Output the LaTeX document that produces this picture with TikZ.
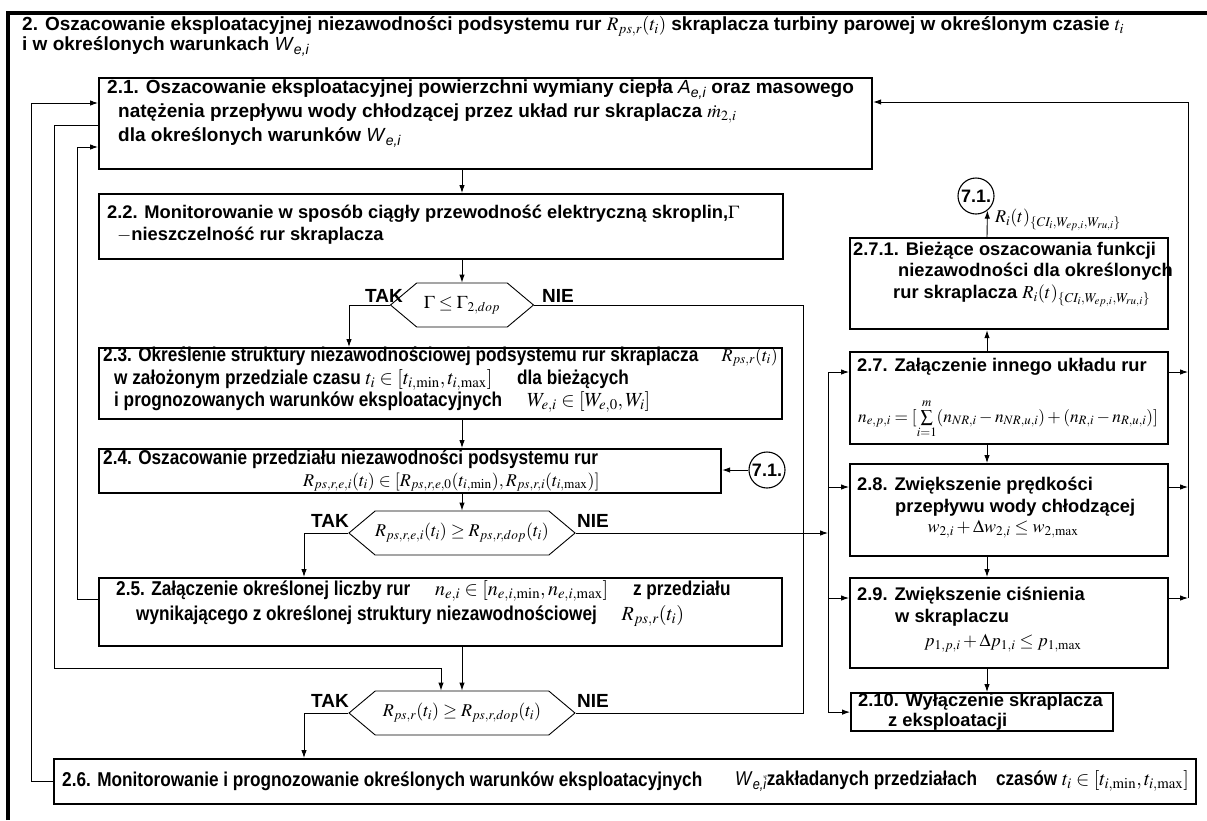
\documentclass[tikz,border=0pt]{standalone}
\usepackage{mathptmx}
\usepackage[no-math]{fontspec}
\setmainfont{Liberation Sans}
\newfontfamily\narrowsans{Liberation Sans}[FakeStretch=0.86]
\usetikzlibrary{arrows.meta,shapes.symbols,calc}
\newcommand{\Wei}{\textit{\mdseries W}\textsubscript{\mdseries\itshape e,i}}
\newcommand{\Aei}{\textit{\mdseries A}\textsubscript{\mdseries\itshape e,i}}
\tikzset{
  box/.style={draw,line width=2.2pt,rectangle,anchor=north west,inner sep=0pt},
  txt/.style={anchor=north west,align=left,inner sep=0pt,font=\bfseries\fontsize{19}{24}\selectfont},
  ntxt/.style={txt,font=\narrowsans\bfseries\fontsize{20}{22.5}\selectfont},
  rtxt/.style={txt,font=\bfseries\fontsize{18.3}{21.5}\selectfont},
  formula/.style={inner sep=0pt,font=\fontsize{18}{20}\selectfont},
  hex/.style={draw,line width=0.9pt,signal,signal to=east and west,signal pointer angle=80,inner sep=0pt,minimum height=44pt,font=\fontsize{18}{20}\selectfont},
  flow/.style={-{Latex[length=8pt,width=5.5pt]},line width=0.9pt},
  link/.style={line width=0.9pt},
  conn/.style={draw,circle,line width=1.1pt,minimum size=36pt,inner sep=0pt,font=\bfseries\fontsize{18}{20}\selectfont},
  yesno/.style={font=\bfseries\fontsize{19}{20}\selectfont,inner sep=0pt}
}
\begin{document}
\begin{tikzpicture}[x=1pt,y=-1pt]
  \useasboundingbox (0,0) rectangle (1207,820);
  \draw[line width=3.5pt] (8,820) -- (8,13) -- (1207,13);
  \node[txt,font=\bfseries\fontsize{19}{20}\selectfont] (ttl) at (22,16) {2. Oszacowanie eksploatacyjnej niezawodności podsystemu rur $R_{ps,r}(t_i)$ skraplacza turbiny parowej w określonym czasie $t_i$\\i w określonych warunkach \Wei};

  % left column
  \node[box,minimum width=773pt,minimum height=91pt] (b21) at (98,77) {};
  \node[txt] (t21) at (107,80) {2.1. Oszacowanie eksploatacyjnej powierzchni wymiany ciepła \Aei{} oraz masowego\\
    \hspace*{11pt}natężenia przepływu wody chłodzącej przez układ rur skraplacza $\dot m_{2,i}$\\
    \hspace*{11pt}dla określonych warunków \Wei};
  \node[box,minimum width=684pt,minimum height=65pt] (b22) at (98,193) {};
  \node[txt,font=\bfseries\fontsize{18.3}{22}\selectfont] (t22) at (107,205) {2.2. Monitorowanie w sposób ciągły przewodność elektryczną skroplin,$\Gamma$\\
    \hspace*{10pt}$-$nieszczelność rur skraplacza};
  \node[hex,minimum width=143pt] (h1) at (462,305) {$\Gamma\le\Gamma_{2,dop}$};
  \node[box,minimum width=683pt,minimum height=71pt] (b23) at (98,347) {};
  \node[ntxt] (t23) at (103,347) {2.3. Określenie struktury niezawodnościowej podsystemu rur skraplacza\\
    \hspace*{11pt}w założonym przedziale czasu $t_i\in[t_{i,\min},t_{i,\max}]$ \quad dla bieżących\\
    \hspace*{11pt}i prognozowanych warunków eksploatacyjnych \quad $W_{e,i}\in[W_{e,0},W_i]$};
  \node[formula,anchor=east] (r23) at (778,357) {$R_{ps,r}(t_i)$};
  \node[box,minimum width=622pt,minimum height=44pt] (b24) at (98,448) {};
  \node[ntxt] (t24) at (103,450) {2.4. Oszacowanie przedziału niezawodności podsystemu rur};
  \node[formula,anchor=west] (f24) at (303,482) {$R_{ps,r,e,i}(t_i)\in[R_{ps,r,e,0}(t_{i,\min}),R_{ps,r,i}(t_{i,\max})]$};
  \node[conn] (c2) at (767,470) {7.1.};
  \node[hex,minimum width=226pt] (h2) at (462,533) {$R_{ps,r,e,i}(t_i)\ge R_{ps,r,dop}(t_i)$};
  \node[box,minimum width=683pt,minimum height=68pt] (b25) at (98,577) {};
  \node[ntxt,font=\narrowsans\bfseries\fontsize{20}{25}\selectfont] (t25) at (116,580) {2.5. Załączenie określonej liczby rur \quad $n_{e,i}\in[n_{e,i,\min},n_{e,i,\max}]$ \quad z przedziału\\
    \hspace*{20pt}wynikającego z określonej struktury niezawodnościowej \quad $R_{ps,r}(t_i)$};
  \node[hex,minimum width=226pt] (h3) at (462,713) {$R_{ps,r}(t_i)\ge R_{ps,r,dop}(t_i)$};
  \node[box,minimum width=1142pt,minimum height=45pt] (b26) at (53,758) {};
  \node[ntxt,anchor=west] (t26) at (62,781) {2.6. Monitorowanie i prognozowanie określonych warunków eksploatacyjnych};
  \node[ntxt,anchor=west] (t26b) at (735,781) {\Wei\hspace{-3pt}\raisebox{7pt}{\mdseries\itshape\tiny w}zakładanych przedziałach};
  \node[ntxt,anchor=east] (t26c) at (1189,781) {czasów $t_i\in[t_{i,\min},t_{i,\max}]$};

  \node[yesno,anchor=south] (tk1) at (384,303) {TAK};
  \node[yesno,anchor=south] (ne1) at (558,303) {NIE};
  \node[yesno,anchor=south] (tk2) at (330,528) {TAK};
  \node[yesno,anchor=south] (ne2) at (593,528) {NIE};
  \node[yesno,anchor=south] (tk3) at (330,708) {TAK};
  \node[yesno,anchor=south] (ne3) at (593,708) {NIE};

  % right column
  \node[conn] (c1) at (976,196) {7.1.};
  \node[formula,anchor=west] (lbl) at (995,220) {$R_i(t)_{\{CI_i,W_{ep,i},W_{ru,i}\}}$};
  \node[box,minimum width=318pt,minimum height=91pt] (b271) at (849,237) {};
  \node[rtxt] (t271) at (853,242) {2.7.1. Bieżące oszacowania funkcji\\
    \hspace*{45pt}niezawodności dla określonych\\
    \hspace*{40pt}rur skraplacza $R_i(t)_{\{CI_i,W_{ep,i},W_{ru,i}\}}$};
  \node[box,minimum width=318pt,minimum height=92pt] (b27) at (849,351) {};
  \node[rtxt] (t27) at (857,358) {2.7. Załączenie innego układu rur};
  \node[formula,font=\fontsize{17.3}{20}\selectfont] (f27) at (1008,419) {$n_{e,p,i}=[\sum\limits_{i=1}^{m}(n_{NR,i}-n_{NR,u,i})+(n_{R,i}-n_{R,u,i})]$};
  \node[box,minimum width=318pt,minimum height=92pt] (b28) at (849,463) {};
  \node[rtxt] (t28) at (857,477) {2.8. Zwiększenie prędkości\\
    \hspace*{38pt}przepływu wody chłodzącej};
  \node[formula] (f28) at (1003,529) {$w_{2,i}+\Delta w_{2,i}\le w_{2,\max}$};
  \node[box,minimum width=318pt,minimum height=90pt] (b29) at (849,577) {};
  \node[rtxt] (t29) at (857,587) {2.9. Zwiększenie ciśnienia\\
    \hspace*{38pt}w skraplaczu};
  \node[formula] (f29) at (1003,643) {$p_{1,p,i}+\Delta p_{1,i}\le p_{1,\max}$};
  \node[box,minimum width=262pt,minimum height=38pt] (b210) at (850,692) {};
  \node[rtxt,font=\bfseries\fontsize{18.3}{20}\selectfont] (t210) at (858,693) {2.10. Wyłączenie skraplacza\\
    \hspace*{30pt}z eksploatacji};

  % bus lines and ports
  \coordinate (busA) at (31,0);
  \coordinate (busB) at (54,0);
  \coordinate (busC) at (77,0);
  \coordinate (busN) at (803,0);
  \coordinate (busL) at (828,0);
  \coordinate (busR) at (1188,0);
  \coordinate (rc) at (987,0);
  \coordinate (inA) at ($(b21.north west)+(0,26)$);
  \coordinate (outB) at ($(b21.north west)+(0,48)$);
  \coordinate (inC) at ($(b21.north west)+(0,70)$);
  \coordinate (inR) at ($(b21.north east)+(0,25)$);
  \coordinate (outC) at ($(b25.north west)+(0,22)$);
  \coordinate (jB) at (0,668);
  \coordinate (h3in) at ($(h3.north)+(-21,0)$);
  \coordinate (in27) at ($(b27.north west)+(0,21)$);
  \coordinate (in28) at ($(b28.north west)+(0,24)$);
  \coordinate (in29) at ($(b29.north west)+(0,21)$);
  \coordinate (out27) at ($(b27.north east)+(0,21)$);
  \coordinate (out28) at ($(b28.north east)+(0,24)$);
  \coordinate (out29) at ($(b29.north east)+(0,21)$);

  % main flow
  \draw[flow] (b21.south -| h1.north) -- (b22.north -| h1.north);
  \draw[flow] (b22.south -| h1.north) -- (h1.north);
  \draw[flow] (h1.west) -| ($(b23.north west)+(251,0)$);
  \draw[flow] (b23.south -| h1.north) -- (b24.north -| h1.north);
  \draw[flow] (c2.west) -- (c2.west -| b24.east);
  \draw[flow] (b24.south -| h2.north) -- (h2.north);
  \draw[flow] (h2.west) -| ($(b25.north west)+(206,0)$);
  \draw[flow] (b25.south -| h3.north) -- (h3.north);
  \draw[flow] (h3.west) -| ($(b26.north west)+(251,0)$);

  % feedback on the left
  \draw[flow] (b26.west) -| (busA |- inA) -- (inA);
  \draw[flow] (outB) -| (busB |- jB) -| (h3in);
  \draw[flow] (outC) -| (busC |- inC) -- (inC);

  % NIE branches
  \draw[link] (h1.east) -| (busN |- h3.east) -- (h3.east);
  \draw[flow] (h2.east) -- (busL |- h2.east);
  \draw[link] (busL |- in27) -- (busL |- b210.west);
  \draw[flow] (busL |- in27) -- (in27);
  \draw[flow] (busL |- in28) -- (in28);
  \draw[flow] (busL |- in29) -- (in29);
  \draw[flow] (busL |- b210.west) -- (b210.west);

  % right column
  \draw[flow] (b27.north -| rc) -- (b271.south -| rc);
  \draw[flow] (b271.north -| rc) -- (c1.-52);
  \draw[flow] (b27.south -| rc) -- (b28.north -| rc);
  \draw[flow] (b28.south -| rc) -- (b29.north -| rc);
  \draw[flow] (b29.south -| rc) -- (b210.north -| rc);
  \draw[flow] (out27) -- (busR |- out27);
  \draw[flow] (out28) -- (busR |- out28);
  \draw[flow] (out29) -- (busR |- out29);
  \draw[flow] (busR |- out29) -- (busR |- inR) -- (inR);
\end{tikzpicture}
\end{document}
